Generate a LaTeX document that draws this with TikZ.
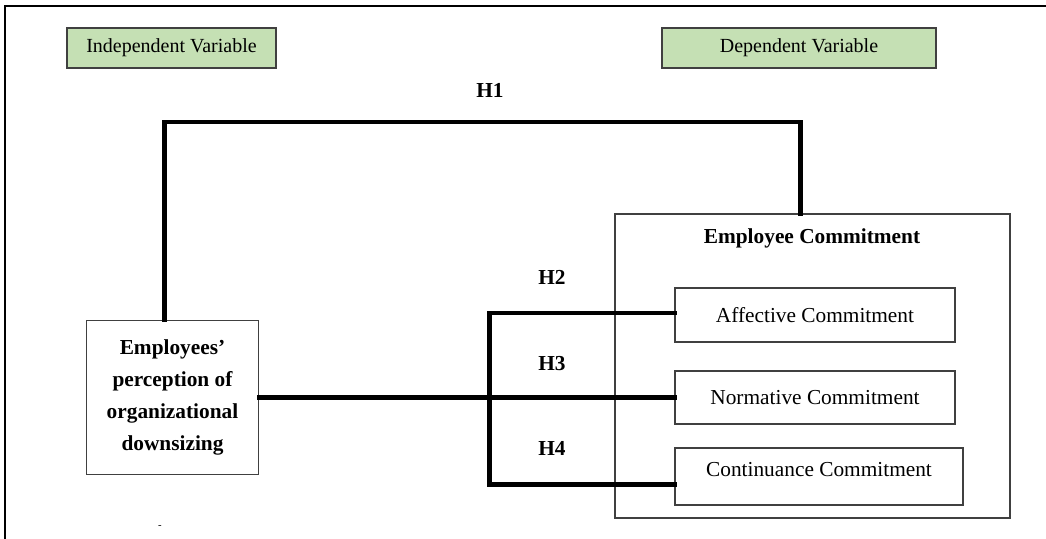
\documentclass[tikz,border=0pt]{standalone}
\usepackage{fontspec}
\setmainfont{Liberation Serif}
\definecolor{varfill}{HTML}{C5E0B4}
\definecolor{boxline}{HTML}{404040}
\begin{document}
\begin{tikzpicture}[x=0.75pt, y=-0.75pt,
		box/.style={draw=boxline, line width=0.8pt, inner sep=0pt, align=center},
		varbox/.style={box, fill=varfill, minimum height=30pt, font=\fontsize{15}{18}\selectfont},
		link/.style={line width=3.6pt, line cap=rect},
		hyp/.style={font=\fontsize{16}{19}\selectfont\bfseries}]
	\useasboundingbox (0,0) rectangle (1046,539);
	\draw[line width=1.4pt] (5,539) -- (5,6) -- (1046,6);
	% variable headers
	\node[varbox, minimum width=156.75pt] (indep) at (171.5,48) {Independent Variable};
	\node[varbox, minimum width=205.5pt] (dep) at (799,48) {Dependent Variable};
	% boxes
	\node[box, minimum width=129pt, minimum height=115.5pt, font=\fontsize{16}{24}\selectfont\bfseries] (empl) at (172.5,397.5) {Employees'\\perception of\\organizational\\downsizing};
	\node[box, minimum width=296.25pt, minimum height=228pt] (commit) at (812.5,366) {};
	\node[hyp] (title) at (812,238) {Employee Commitment};
	\node[box, minimum width=210pt, minimum height=40.5pt, font=\fontsize{16}{19}\selectfont] (aff) at (815,315) {Affective Commitment};
	\node[box, minimum width=210pt, minimum height=39.75pt, font=\fontsize{16}{19}\selectfont] (norm) at (815,397.5) {Normative Commitment};
	\node[box, minimum width=216pt, minimum height=42.75pt, label={[yshift=5pt, font=\fontsize{16}{19}\selectfont]center:Continuance Commitment}] (cont) at (819,476.5) {};
	% hypotheses
	\draw[link] ([xshift=-6pt]empl.north) -- ++(0,-198) -| ([xshift=-9pt]commit.north);
	\draw[link] (empl.east) -- (norm.west);
	\draw[link] ([yshift=1.5pt]aff.west) -- ++(-185,0) |- ([yshift=-6pt]cont.west);
	\node[hyp] (h1) at (490,90) {H1};
	\node[hyp] (h2) at (552,277) {H2};
	\node[hyp] (h3) at (552,364) {H3};
	\node[hyp] (h4) at (552,448) {H4};
	\node[font=\fontsize{8}{8}\selectfont] (mark) at (160,527) {-};
\end{tikzpicture}
\end{document}
